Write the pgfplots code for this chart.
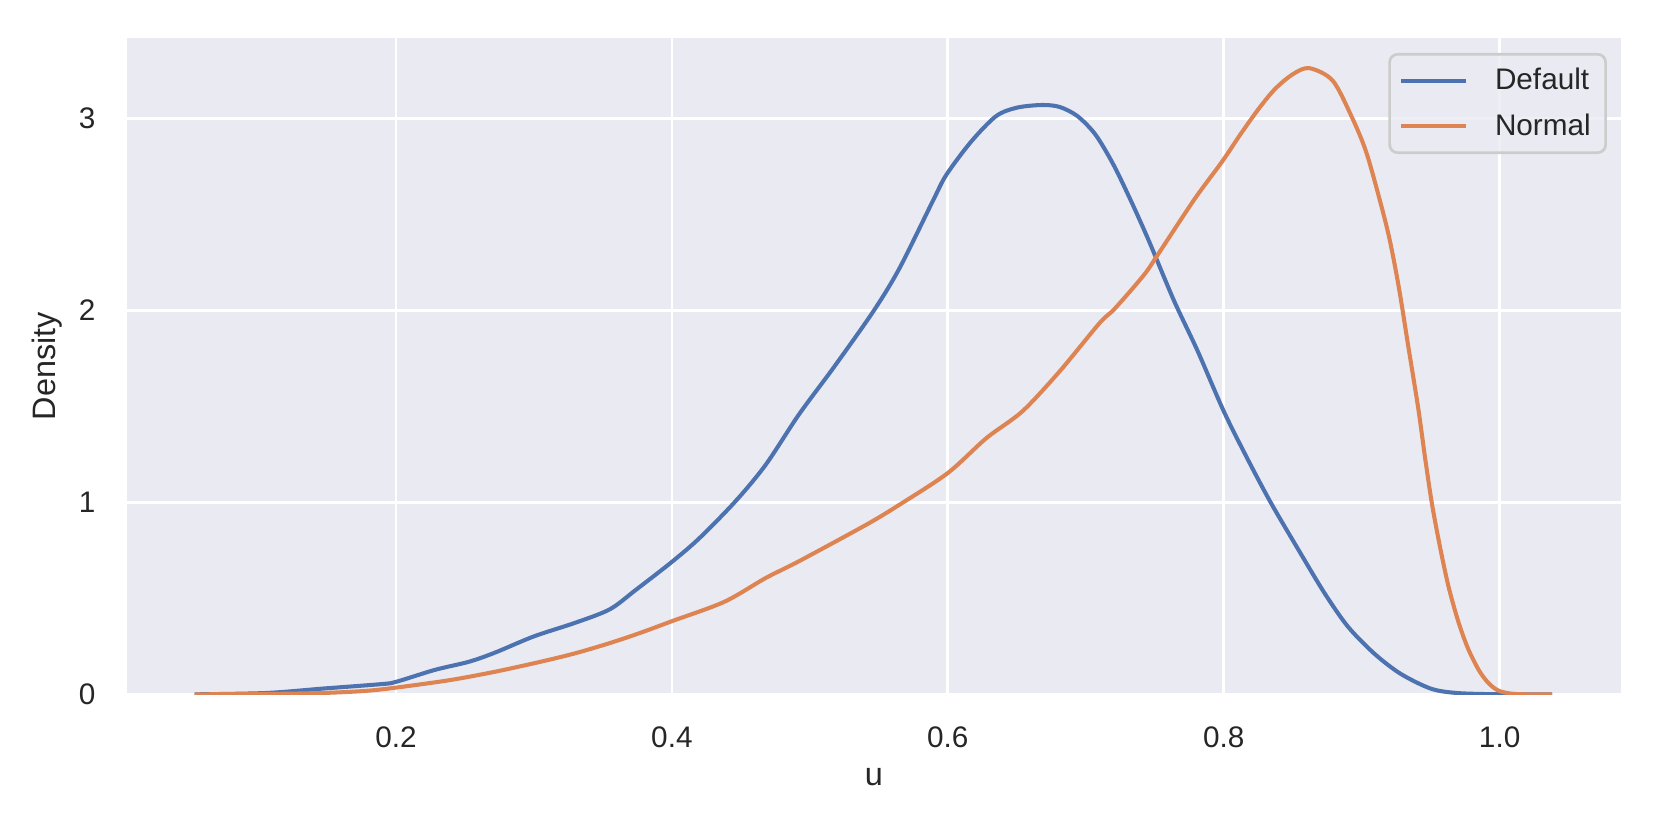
\documentclass[border=0pt]{standalone}
\usepackage{fontspec}
\setmainfont{Liberation Sans}
\usepackage{pgfplots}
\pgfplotsset{compat=1.18}
\definecolor{bg}{HTML}{EAEAF2}
\definecolor{sblue}{HTML}{4C72B0}
\definecolor{sorange}{HTML}{DD8452}
\definecolor{txt}{HTML}{262626}
\definecolor{legbord}{HTML}{CCCCCC}

\begin{document}
\begin{tikzpicture}
\begin{axis}[
  name=ax,
  scale only axis,
  width=553pt, height=243pt,
  xmin=0.005, xmax=1.088,
  ymin=0, ymax=3.42,
  axis background/.style={fill=bg},
  axis line style={draw=none},
  major tick length=0pt,
  tick style={draw=none},
  grid=major,
  major grid style={white, line width=1pt},
  xtick={0.2,0.4,0.6,0.8,1.0},
  xticklabels={0.2,0.4,0.6,0.8,1.0},
  ytick={0,1,2,3},
  /pgf/number format/assume math mode=true,
  tick label style={font=\fontsize{11}{13}\selectfont, text=txt},
  xticklabel style={yshift=-8.3pt},
  yticklabel style={xshift=-8.2pt},
  xlabel={u},
  ylabel={Density},
  label style={font=\fontsize{12}{14}\selectfont, text=txt},
  xlabel style={at={(axis description cs:0.5,0)}, anchor=center, yshift=-30.6pt},
  ylabel style={at={(axis description cs:0,0.5)}, anchor=center, yshift=29.4pt},
  legend cell align=left,
  legend image code/.code={\draw[#1] (0pt,0pt) -- (24pt,0pt);},
  legend style={
    at={(axis description cs:0.9906,0.977)}, anchor=north east,
    draw=legbord, line width=1pt, fill=bg, fill opacity=0.8, text opacity=1,
    rounded corners=3pt,
    font=\fontsize{11}{13}\selectfont, text=txt,
    inner xsep=3.5pt, inner ysep=3pt,
    row sep=3.5pt, column sep=8pt,
  },
]
\addplot[sblue, line width=1.5pt, smooth, tension=0.5] coordinates {
(0.054,0) (0.106,0.007) (0.147,0.03) (0.189,0.053) (0.200,0.065)
(0.228,0.127) (0.253,0.17) (0.272,0.218) (0.300,0.302) (0.330,0.373)
(0.355,0.443) (0.374,0.545) (0.400,0.69) (0.420,0.814) (0.446,1.005)
(0.468,1.196) (0.492,1.457) (0.517,1.70) (0.546,1.995) (0.565,2.22)
(0.589,2.568) (0.599,2.707) (0.617,2.88) (0.635,3.012) (0.650,3.056)
(0.668,3.07) (0.681,3.06) (0.694,3.012) (0.707,2.916) (0.720,2.76)
(0.733,2.567) (0.746,2.358) (0.764,2.05) (0.781,1.79) (0.800,1.475)
(0.817,1.23) (0.834,1.0) (0.854,0.755) (0.873,0.528) (0.890,0.353)
(0.909,0.213) (0.928,0.108) (0.950,0.03) (0.969,0.007) (0.998,0.0005)
(1.038,0)
};
\addlegendentry{Default}
\addplot[sorange, line width=1.5pt, smooth, tension=0.5] coordinates {
(0.054,0) (0.106,0.002) (0.147,0.007) (0.178,0.018) (0.200,0.035)
(0.239,0.074) (0.272,0.118) (0.305,0.17) (0.330,0.214) (0.355,0.267)
(0.377,0.32) (0.400,0.381) (0.438,0.482) (0.468,0.606) (0.492,0.693)
(0.541,0.884) (0.565,0.988) (0.600,1.153) (0.628,1.335) (0.654,1.474)
(0.681,1.682) (0.710,1.934) (0.721,2.009) (0.742,2.183) (0.752,2.288)
(0.768,2.463) (0.781,2.602) (0.799,2.777) (0.812,2.916) (0.825,3.047)
(0.837,3.152) (0.850,3.23) (0.862,3.262) (0.879,3.197) (0.893,3.005)
(0.903,2.831) (0.912,2.605) (0.920,2.378) (0.927,2.117) (0.934,1.803)
(0.941,1.49) (0.946,1.23) (0.951,0.99) (0.957,0.76) (0.963,0.56)
(0.970,0.38) (0.977,0.24) (0.985,0.125) (0.992,0.058) (0.999,0.02)
(1.008,0.004) (1.020,0) (1.038,0)
};
\addlegendentry{Normal}
\end{axis}
\pgfresetboundingbox
\path ([xshift=-47pt,yshift=-50.4pt]ax.south west) rectangle ([xshift=14.8pt,yshift=14pt]ax.north east);
\end{tikzpicture}
\end{document}
